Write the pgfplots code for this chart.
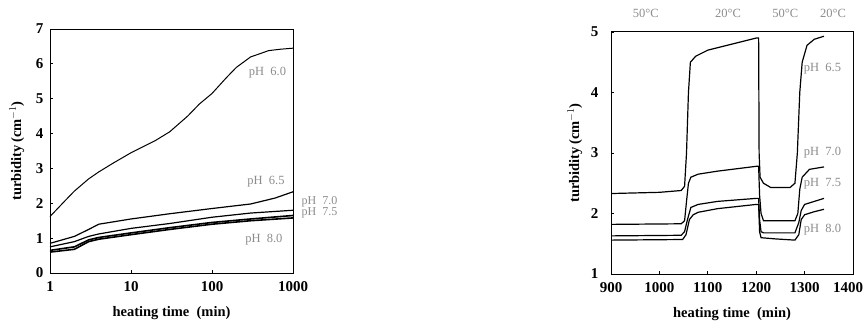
\documentclass[border=0pt]{standalone}
\usepackage{pgfplots}
\pgfplotsset{compat=1.18}
\usepackage{fontspec}
\setmainfont{Liberation Serif}
\definecolor{lab}{gray}{0.55}
\tikzset{pl/.style={lab, font=\fontsize{12.5}{13}\selectfont}}
\begin{document}
\begin{tikzpicture}
\path[use as bounding box] (0pt,0pt) rectangle (866pt,324pt);
\pgfplotsset{
  myax/.style={
    scale only axis, anchor=south west,
    axis line style={line width=1pt},
    tick style={black, line width=0.8pt},
    major tick length=3pt,
    tick align=inside,
    xtick pos=bottom, ytick pos=left,
    /pgf/number format/assume math mode=true,
    tick label style={font=\fontsize{15}{15}\selectfont\bfseries},
    xticklabel style={yshift=-5pt},
    label style={font=\fontsize{14.5}{15}\selectfont\bfseries},
    xlabel={heating time\enspace(min)},
    ylabel={turbidity\,(cm$^{-1}$)},
    xlabel style={at={(axis description cs:0.5,0)}, anchor=center, yshift=-40pt},
    clip=false,
  },
  cur/.style={black, line width=1.2pt, no marks},
}
\begin{axis}[myax, at={(50pt,51pt)}, width=243pt, height=244pt,
  xmode=log, xmin=1, xmax=1000, ymin=0, ymax=7,
  xtick={1,10,100,1000}, xticklabels={1,10,100,1000},
  ytick={0,1,2,3,4,5,6,7}, xminorticks=false,
  yticklabel style={xshift=-3pt},
  ylabel style={at={(axis description cs:-0.136,0.5)}, anchor=center}]
\addplot[cur, line width=1pt] coordinates {(1,1.62)(1.5,2.05)(2,2.35)(3,2.7)(4,2.9)(6,3.15)(10,3.45)(20,3.8)(30,4.05)(50,4.5)(70,4.85)(100,5.15)(150,5.6)(200,5.9)(300,6.2)(400,6.3)(500,6.38)(700,6.42)(1000,6.45)};
\addplot[cur] coordinates {(1,0.85)(2,1.05)(3,1.25)(4,1.4)(10,1.55)(30,1.7)(100,1.85)(300,1.98)(600,2.15)(1000,2.33)};
\addplot[cur] coordinates {(1,0.75)(2,0.9)(3,1.05)(4,1.12)(10,1.28)(30,1.42)(100,1.6)(300,1.72)(1000,1.8)};
\addplot[cur, line width=1.6pt] coordinates {(1,0.65)(2,0.75)(3,0.95)(4,1.02)(10,1.15)(30,1.3)(100,1.45)(300,1.55)(1000,1.65)};
\addplot[cur, line width=1.6pt] coordinates {(1,0.6)(2,0.68)(3,0.9)(4,0.97)(10,1.1)(30,1.25)(100,1.4)(300,1.5)(1000,1.58)};
\node[pl] at (rel axis cs:0.895,0.82) {pH\enspace 6.0};
\node[pl] at (rel axis cs:0.889,0.373) {pH\enspace 6.5};
\node[pl] at (rel axis cs:0.88,0.135) {pH\enspace 8.0};
\node[pl, anchor=west, inner sep=0pt, font=\fontsize{12}{12}\selectfont] at (rel axis cs:1.035,0.292) {pH\enspace 7.0};
\node[pl, anchor=west, inner sep=0pt, font=\fontsize{12}{12}\selectfont] at (rel axis cs:1.035,0.245) {pH\enspace 7.5};
\end{axis}
\begin{axis}[myax, at={(611pt,50pt)}, width=242pt, height=242pt,
  xmin=900, xmax=1400, ymin=1, ymax=5,
  xtick={900,1000,1100,1200,1300,1400}, ytick={1,2,3,4,5},
  xticklabels={900,1000,1100,1200,1300,\kern-10pt 1400},
  yticklabel style={xshift=-9pt},
  ylabel style={at={(axis description cs:-0.149,0.5)}, anchor=center}]
\addplot[cur] coordinates {(900,2.33)(1000,2.35)(1045,2.38)(1052,2.45)(1056,3.0)(1060,4.0)(1064,4.5)(1075,4.6)(1100,4.7)(1150,4.8)(1200,4.9)(1205,4.9)(1206,3.0)(1208,2.6)(1215,2.5)(1230,2.43)(1270,2.43)(1280,2.5)(1285,3.0)(1290,4.0)(1295,4.5)(1305,4.78)(1320,4.88)(1340,4.93)};
\addplot[cur] coordinates {(900,1.82)(1045,1.83)(1052,1.88)(1056,2.2)(1060,2.5)(1065,2.6)(1080,2.65)(1120,2.7)(1200,2.78)(1205,2.78)(1207,2.3)(1210,2.0)(1215,1.88)(1280,1.88)(1286,2.0)(1290,2.4)(1295,2.6)(1310,2.73)(1340,2.77)};
\addplot[cur] coordinates {(900,1.63)(1045,1.64)(1052,1.7)(1058,1.9)(1065,2.1)(1080,2.15)(1120,2.2)(1200,2.25)(1205,2.25)(1207,1.9)(1210,1.7)(1215,1.68)(1280,1.68)(1288,1.85)(1293,2.05)(1300,2.15)(1320,2.2)(1340,2.25)};
\addplot[cur] coordinates {(900,1.56)(1048,1.57)(1055,1.65)(1062,1.9)(1070,1.98)(1080,2.02)(1120,2.08)(1200,2.15)(1205,2.15)(1207,1.7)(1210,1.6)(1240,1.58)(1280,1.56)(1288,1.65)(1293,1.9)(1300,1.98)(1320,2.03)(1340,2.07)};
\node[pl] at (axis cs:1337,4.4) {pH\enspace 6.5};
\node[pl] at (axis cs:1337,3.0) {pH\enspace 7.0};
\node[pl] at (axis cs:1337,2.5) {pH\enspace 7.5};
\node[pl] at (axis cs:1337,1.73) {pH\enspace 8.0};
\node[pl] at (axis cs:972,5.31) {50\textdegree C};
\node[pl] at (axis cs:1142,5.31) {20\textdegree C};
\node[pl] at (axis cs:1260,5.31) {50\textdegree C};
\node[pl] at (axis cs:1359,5.31) {20\textdegree C};
\end{axis}
\end{tikzpicture}
\end{document}
